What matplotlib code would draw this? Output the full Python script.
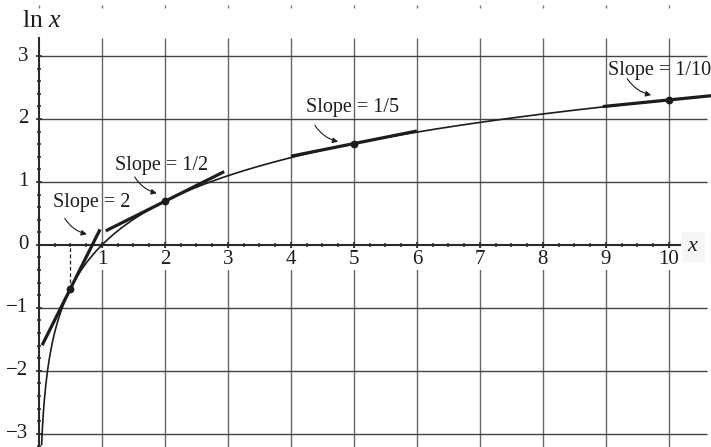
import numpy as np
import matplotlib
matplotlib.use("Agg")
import matplotlib.pyplot as plt

plt.rcParams['font.family'] = ['Liberation Serif', 'DejaVu Serif']
plt.rcParams['mathtext.fontset'] = 'custom'
plt.rcParams['mathtext.it'] = 'Liberation Serif:italic'
plt.rcParams['mathtext.rm'] = 'Liberation Serif'

# Points of tangency, the slope labels and the span of each tangent segment
tangent_x = [0.5, 2, 5, 10]
slope_labels = ["Slope = 2", "Slope = 1/2", "Slope = 1/5", "Slope = 1/10"]
tangent_from = [0.05, 1.06, 4.0, 8.95]
tangent_to = [0.97, 2.94, 6.0, 10.7]

# Label anchor (baseline centre) and arrow start/end for each slope note
label_pos = [(0.84, 0.60), (1.95, 1.19), (4.97, 2.11), (9.85, 2.70)]
arrow_start = [(0.41, 0.42), (1.52, 1.08), (4.38, 1.90), (9.34, 2.64)]
arrow_end = [(0.76, 0.17), (1.87, 0.82), (4.75, 1.64), (9.72, 2.38)]

x_ticks = list(range(1, 11))
y_ticks = [-3, -2, -1, 0, 1, 2, 3]

XMIN, XMAX = -0.619, 10.67
YMIN, YMAX = -3.21, 3.89
GRID_TOP = 3.286
GRID_RIGHT = 10.6
AXIS_RIGHT = 10.18

ink = '#1c1c1c'

fig = plt.figure(figsize=(7.11, 4.47), dpi=100)
ax = fig.add_axes([0, 0, 1, 1])
ax.set_xlim(XMIN, XMAX)
ax.set_ylim(YMIN, YMAX)

# grid
ax.vlines(x_ticks, YMIN, GRID_TOP, colors='#666666', lw=1.0, zorder=1)
ax.hlines([t for t in y_ticks if t != 0], 0, GRID_RIGHT, colors='#444444', lw=1.0, zorder=1)
# small marks along the top edge
ax.vlines([0] + x_ticks, 3.77, 3.81, colors='#777777', lw=1.0, zorder=1)

# axes through the origin
for side in ('top', 'right'):
    ax.spines[side].set_visible(False)
ax.spines['left'].set_position(('data', 0))
ax.spines['bottom'].set_position(('data', 0))
ax.spines['left'].set_bounds(YMIN, GRID_TOP)
ax.spines['bottom'].set_bounds(0, AXIS_RIGHT)
for side in ('left', 'bottom'):
    ax.spines[side].set_color('#2a2a2a')
    ax.spines[side].set_linewidth(1.5)
    ax.spines[side].set_zorder(3)

ax.set_xticks(x_ticks)
ax.set_xticks([v for v in np.arange(0.25, 10.01, 0.25) if v % 1], minor=True)
ax.set_yticks(y_ticks)
ax.set_yticks([round(v, 1) for v in np.arange(-3.2, 2.81, 0.2) if abs(v - round(v)) > 1e-6], minor=True)
ax.tick_params(which='major', direction='inout', length=4.5, width=1.2, color='#2a2a2a',
               labelbottom=False, labelleft=False)
ax.tick_params(which='minor', direction='inout', length=2.6, width=1.1, color='#2a2a2a')

# tick labels
for t in x_ticks:
    ax.text(t, -0.23, str(t), ha='center', va='center', fontsize=15, color=ink,
            bbox=dict(fc='white', ec='none', pad=1.0), zorder=4)
for t in y_ticks:
    lab = str(t).replace('-', '\u2212')
    ax.text(-0.165, t, lab, ha='right', va='center', fontsize=15, color=ink, zorder=4)

ax.text(-0.27, 3.56, r'ln $x$', ha='left', va='center', fontsize=18.5, color=ink)
ax.text(10.39, -0.03, r'$x$', ha='center', va='center', fontsize=16, color=ink,
        bbox=dict(fc='#f6f6f6', ec='none', pad=4.0), zorder=4)

# ln x
xs = np.linspace(0.042, XMAX, 800)
ax.plot(xs, np.log(xs), color=ink, lw=1.2, zorder=5)

# tangent segments and points of tangency
for x0, a, b in zip(tangent_x, tangent_from, tangent_to):
    seg = np.array([a, b])
    ax.plot(seg, np.log(x0) + (seg - x0) / x0, color=ink, lw=2.3,
            solid_capstyle='butt', zorder=6)
ax.plot(tangent_x, np.log(tangent_x), 'o', color=ink, ms=4.6, zorder=7)

ax.vlines(tangent_x[0], np.log(tangent_x[0]), 0, colors=ink, lw=0.9,
          linestyles=(0, (3, 2)), zorder=4)

for txt, (lx, ly), s, e in zip(slope_labels, label_pos, arrow_start, arrow_end):
    ax.text(lx, ly, txt, ha='center', va='baseline', fontsize=14.5, color=ink, zorder=8)
    ax.annotate('', xy=e, xytext=s,
                arrowprops=dict(arrowstyle='-|>', lw=0.8, color=ink, mutation_scale=8,
                                shrinkA=0, shrinkB=0, connectionstyle='arc3,rad=0.2'),
                zorder=8)

fig.savefig('out.png', dpi=100)
